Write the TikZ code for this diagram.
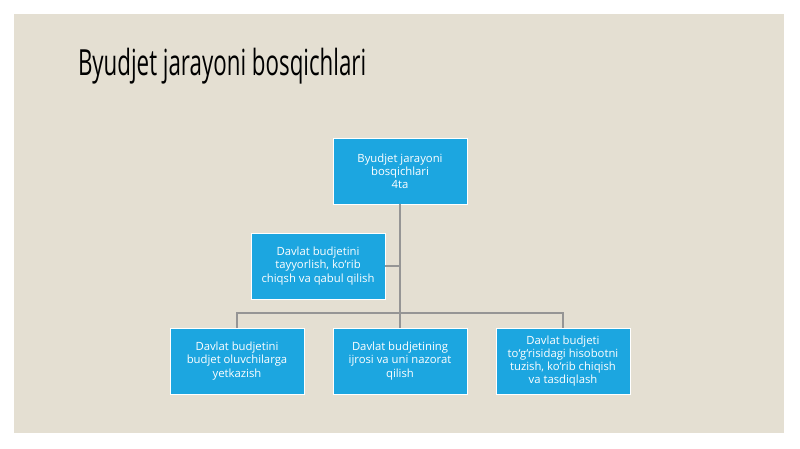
\documentclass[tikz,border=0pt]{standalone}
\usepackage{fontspec}
\setmainfont{Open Sans}
\newfontfamily\titlefont[FakeStretch=0.62]{Open Sans}
\usetikzlibrary{positioning}
\definecolor{slidebg}{HTML}{E4DFD2}
\definecolor{boxblue}{HTML}{1CA6E0}
\definecolor{linegray}{HTML}{959595}
\begin{document}
\begin{tikzpicture}[x=1pt,y=-1pt,align=center,node distance=29pt,
    every node/.style={inner sep=1,outer sep=0,font=\fontsize{11.3}{13.2}\selectfont},
    stage/.style={draw=white,line width=0.6pt,fill=boxblue,text=white,minimum width=134pt,minimum height=66pt},
    link/.style={linegray,line width=1.6pt}]
    \useasboundingbox (0,0) rectangle (800,449);
    \fill[slidebg] (14,14) rectangle (784,433);
    \node (title) [anchor=base west,font=\titlefont\fontsize{36}{40}\selectfont] at (77,76) {Byudjet jarayoni bosqichlari};
	\node[stage] (0) at (400,171) {Byudjet jarayoni\\bosqichlari\\4ta};
	\node[stage] (1) [below=29pt of 0, xshift=-82pt] {Davlat budjetini\\tayyorlish, ko‘rib\\chiqsh va qabul qilish};
	\node[stage] (2) [below=124pt of 0] {Davlat budjetining\\ijrosi va uni nazorat\\qilish};
	\node[stage] (3) [left=of 2] {Davlat budjetini\\budjet oluvchilarga\\yetkazish};
	\node[stage] (4) [right=of 2] {Davlat budjeti\\to‘g‘risidagi hisobotni\\tuzish, ko‘rib chiqish\\va tasdiqlash};
    \coordinate (bus) at (400,313);
    \draw[link] (0.south) -- (2.north);
    \draw[link] (1.east) -- (1.east -| 0.south);
    \draw[link] (3.north) |- (bus) -| (4.north);
\end{tikzpicture}
\end{document}
